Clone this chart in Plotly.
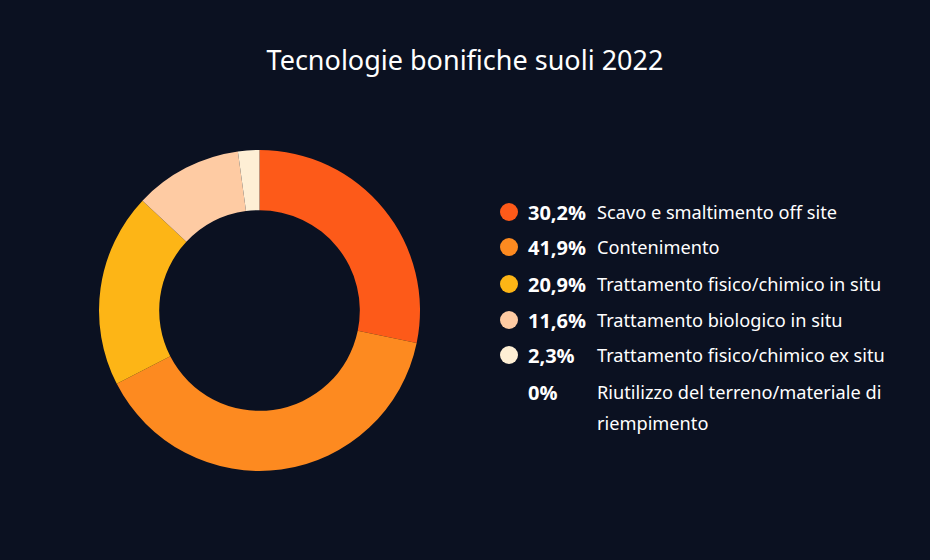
import plotly.graph_objects as go

# dati
labels = ['Scavo e smaltimento off site',
          'Contenimento',
          'Trattamento fisico/chimico in situ',
          'Trattamento biologico in situ',
          'Trattamento fisico/chimico ex situ',
          'Riutilizzo del terreno/materiale di<br>riempimento']
values = [30.2, 41.9, 20.9, 11.6, 2.3, 0]
pct_text = ['30,2%', '41,9%', '20,9%', '11,6%', '2,3%', '0%']
colors = ['#FD5A19', '#FD8A20', '#FDB516', '#FECBA3', '#FEEFD5', '#0B1121']

bg = '#0B1121'
W, H = 930, 560

fig = go.Figure()

# ciambella
fig.add_trace(go.Pie(labels=[l.replace('<br>', ' ') for l in labels],
                     values=values,
                     hole=0.625, sort=False, direction='clockwise',
                     rotation=0,
                     marker={'colors': colors, 'line': {'width': 0}},
                     textinfo='none', hoverinfo='label+percent',
                     showlegend=False,
                     domain={'x': [99 / W, 420 / W],
                             'y': [(H - 471) / H, (H - 150) / H]}))

# legenda disegnata a mano
row_y = [212, 247, 284, 320, 355, 392]
line_gap = 31
n_dots = 5
fig.add_trace(go.Scatter(x=[509] * n_dots, y=row_y[:n_dots],
                         mode='markers',
                         marker={'size': 18, 'color': colors[:n_dots],
                                 'line': {'width': 0}},
                         hoverinfo='skip', showlegend=False))

for i, (p, lab) in enumerate(zip(pct_text, labels)):
    fig.add_annotation(x=526, y=row_y[i], xref='x', yref='y',
                       text='<b>' + p + '</b>', showarrow=False,
                       xanchor='left', yanchor='middle',
                       font={'family': 'Open Sans', 'size': 20, 'color': 'white'})
    for j, part in enumerate(lab.split('<br>')):
        fig.add_annotation(x=595, y=row_y[i] + j * line_gap,
                           xref='x', yref='y',
                           text=part, showarrow=False,
                           xanchor='left', yanchor='middle',
                           font={'family': 'Noto Sans', 'size': 18.2,
                                 'color': 'white'})

fig.update_layout(width=W, height=H,
                  paper_bgcolor=bg, plot_bgcolor=bg,
                  margin={'l': 0, 'r': 0, 't': 0, 'b': 0},
                  title={'text': 'Tecnologie bonifiche suoli 2022',
                         'x': 0.5, 'xanchor': 'center',
                         'y': 1 - 61 / H, 'yanchor': 'middle',
                         'font': {'family': 'Noto Sans', 'size': 27,
                                  'color': 'white'}},
                  xaxis={'range': [0, W], 'visible': False, 'fixedrange': True},
                  yaxis={'range': [H, 0], 'visible': False, 'fixedrange': True})

fig.write_html('out.html', config={'displayModeBar': False},
               post_script="document.body.style.margin='0';")
